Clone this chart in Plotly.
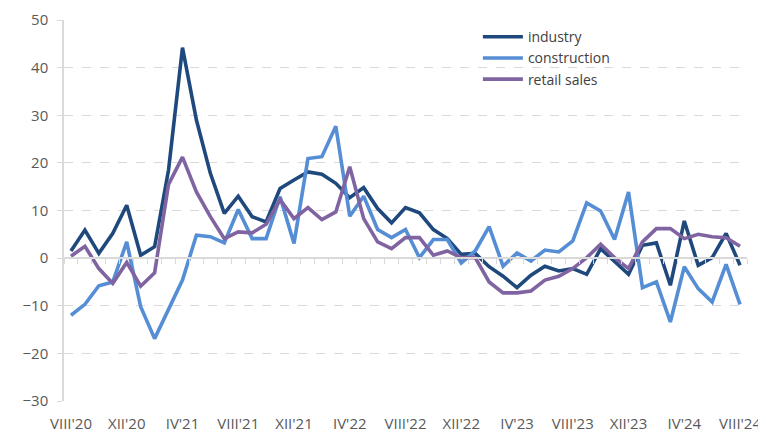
import plotly.graph_objects as go

roman = ["I","II","III","IV","V","VI","VII","VIII","IX","X","XI","XII"]
months = []
y, m = 2020, 8
for _ in range(49):
    months.append(f"{roman[m-1]}'{str(y)[2:]}")
    m += 1
    if m > 12:
        m = 1
        y += 1

industry = [1.5, 5.9, 1.0, 5.2, 11.1, 0.6, 2.4, 18.5, 44.2, 29.0, 17.8, 9.4, 13.0, 8.7, 7.6, 14.6, 16.4, 18.1,
            17.6, 15.7, 12.7, 14.8, 10.4, 7.4, 10.6, 9.5, 6.0, 4.1, 0.8, 1.0, -1.8, -3.8, -6.2, -3.6, -1.7, -2.7,
            -2.2, -3.4, 2.0, -0.8, -3.4, 2.7, 3.2, -5.7, 7.8, -1.5, 0.1, 5.2, -1.5]
construction = [-12.0, -9.7, -5.8, -5.0, 3.4, -10.2, -16.9, -10.9, -4.6, 4.8, 4.5, 3.2, 10.2, 4.1, 4.1, 12.9, 3.1, 20.9,
                21.3, 27.7, 8.8, 13.0, 6.0, 4.3, 6.0, 0.1, 3.9, 3.9, -1.0, 1.5, 6.6, -1.7, 1.1, -0.6, 1.7, 1.3,
                3.6, 11.6, 9.9, 3.9, 13.9, -6.2, -5.0, -13.4, -1.8, -6.4, -9.2, -1.3, -9.7]
retail = [0.4, 2.5, -2.2, -5.3, -0.9, -5.9, -3.1, 15.5, 21.2, 13.9, 8.7, 4.1, 5.5, 5.3, 7.1, 12.3, 8.3, 10.6,
          8.1, 9.7, 19.2, 8.3, 3.4, 2.0, 4.3, 4.3, 0.6, 1.5, 0.1, 0.1, -5.0, -7.3, -7.3, -6.9, -4.6, -3.8,
          -2.2, 0.1, 2.9, 0.1, -2.2, 3.4, 6.2, 6.2, 4.1, 5.0, 4.5, 4.3, 2.5]

series = [("industry", industry, "#1F497D"),
          ("construction", construction, "#558ED5"),
          ("retail sales", retail, "#8064A2")]

tick_labels = [lab if i % 4 == 0 else "" for i, lab in enumerate(months)]

fig = go.Figure()
for name, vals, col in series:
    fig.add_trace(go.Scatter(x=months, y=vals, mode="lines", name=name,
                             line=dict(color=col, width=3.6)))
# invisible trace to host the zero-line axis with boundary ticks
fig.add_trace(go.Scatter(x=months, y=[0]*len(months), xaxis="x2", mode="lines",
                         line=dict(width=0), showlegend=False, hoverinfo="skip"))

fam = "Open Sans, sans-serif"
font = dict(family=fam, size=15, color="#595959")
grid = "#D9D9D9"

# the page body has an 8px default margin, so the figure is 8px smaller than the window
fig.update_layout(
    width=758, height=425,
    margin=dict(l=56, r=19, t=12, b=32),
    paper_bgcolor="white", plot_bgcolor="white",
    font=font,
    showlegend=True,
    legend=dict(x=0.606, y=0.997, xanchor="left", yanchor="top",
                bgcolor="rgba(0,0,0,0)", font=dict(size=14, color="#404040", family=fam),
                tracegroupgap=0, itemwidth=40),
    xaxis=dict(type="category", categoryorder="array", categoryarray=months,
               tickmode="array", tickvals=months, ticktext=tick_labels,
               showgrid=False, showline=False, ticks="", ticklabelstandoff=12,
               range=[-0.5, 48.5], tickfont=font, automargin=False),
    xaxis2=dict(type="category", categoryorder="array", categoryarray=months,
                overlaying="x", anchor="free", position=0.375, matches="x",
                showline=True, linecolor=grid, linewidth=1.5,
                ticks="outside", ticklen=5, tickcolor=grid, tickwidth=1.3, tickson="boundaries",
                tickmode="array", tickvals=months, showticklabels=False, showgrid=False,
                automargin=False),
    yaxis=dict(range=[-30, 50], dtick=10, tick0=-30,
               showgrid=True, gridcolor=grid, griddash="dash", gridwidth=1.3,
               zeroline=True, zerolinecolor=grid, zerolinewidth=1.5,
               showline=True, linecolor=grid, linewidth=1.5,
               ticks="outside", ticklen=5, tickcolor=grid, tickwidth=1.3,
               ticklabelstandoff=6, tickfont=font, automargin=False),
)

fig.write_html("out.html")
